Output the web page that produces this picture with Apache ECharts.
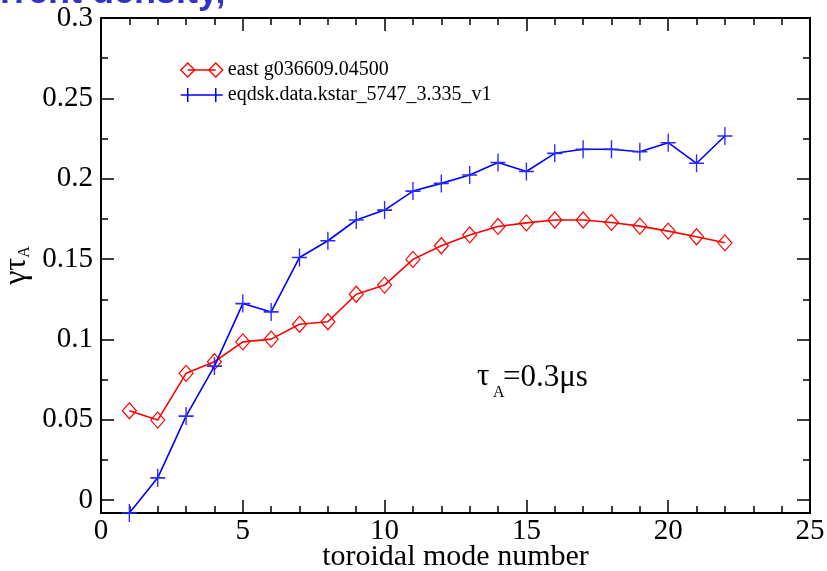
<!DOCTYPE html>
<html><head><meta charset="utf-8">
<script src="https://cdn.jsdelivr.net/npm/echarts@6/dist/echarts.min.js"></script>
<style>html,body{margin:0;padding:0;background:#fff}#c{width:827px;height:571px}</style>
</head><body><div id="c"></div>
<script>
const modeNumbers = [1,2,3,4,5,6,7,8,9,10,11,12,13,14,15,16,17,18,19,20,21,22];
const eastValues = [0.0556,0.0498,0.0789,0.0861,0.0985,0.1002,0.1094,0.111,0.1281,0.1338,0.1498,0.1583,0.165,0.1703,0.1725,0.1743,0.1743,0.1728,0.1705,0.1674,0.1639,0.1601];
const kstarValues = [-0.008,0.0139,0.0523,0.0834,0.1223,0.1171,0.151,0.1614,0.1743,0.1805,0.1923,0.1971,0.2023,0.2101,0.2045,0.2158,0.2183,0.2183,0.2168,0.2224,0.2096,0.2266];
const seriesNames = ['east g036609.04500','eqdsk.data.kstar_5747_3.335_v1'];
const yMajorTicks = [0,0.05,0.1,0.15,0.2,0.25,0.3];
const yMinorTicks = [0.025,0.075,0.125,0.175,0.225,0.275];

const SERIF = 'Liberation Serif';
const tickStyle = {color:'#000', width:1.5};
function xAx(pos, labels){
  return {type:'value', min:0, max:25, interval:5, position:pos,
    axisLine:{show:true, onZero:false, lineStyle:{color:'#000', width:2}},
    axisTick:{show:true, inside:true, length:13, lineStyle:tickStyle},
    minorTick:{show:true, splitNumber:5, length:7, lineStyle:tickStyle},
    axisLabel:{show:labels, fontFamily:SERIF, fontSize:29, color:'#000', margin:4},
    splitLine:{show:false}, minorSplitLine:{show:false}};
}
function yAx(pos, major, labels){
  const vals = major ? yMajorTicks : yMinorTicks;
  return {type:'value', min:-0.008, max:0.3, position:pos,
    axisLine:{show:true, onZero:false, lineStyle:{color:'#000', width:2}},
    axisTick:{show:true, inside:true, length: major?13:7, lineStyle:tickStyle, customValues: vals},
    axisLabel:{show:labels, customValues: vals, fontFamily:SERIF, fontSize:29, color:'#000', margin:8,
      formatter: v => String(+(+v).toFixed(3))},
    splitLine:{show:false}};
}
const xAxis = [xAx('bottom', true), xAx('top', false)];
xAxis[0].name = 'toroidal mode number';
xAxis[0].nameLocation = 'middle';
xAxis[0].nameGap = 29;
xAxis[0].nameMoveOverlap = false;
xAxis[0].nameTextStyle = {fontFamily:SERIF, fontSize:30, color:'#000'};

const yAxis = [yAx('left',true,true), yAx('left',false,false), yAx('right',true,false), yAx('right',false,false)];
yAxis[0].name = '{g|γτ}{s|A}';
yAxis[0].nameLocation = 'middle';
yAxis[0].nameRotate = 90;
yAxis[0].nameGap = 68;
yAxis[0].nameMoveOverlap = false;
yAxis[0].nameTextStyle = {color:'#000', rich:{
  g:{fontFamily:SERIF, fontSize:32, lineHeight:32, verticalAlign:'top', color:'#000'},
  s:{fontFamily:SERIF, fontSize:16, lineHeight:16, verticalAlign:'bottom', padding:[20,0,0,0], color:'#000'}
}};

const chart = echarts.init(document.getElementById('c'));
chart.setOption({
  animation:false,
  backgroundColor:'#fff',
  grid:{left:101, top:18, right:17, bottom:58, containLabel:false, outerBoundsMode:'none'},
  xAxis: xAxis,
  yAxis: yAxis,
  legend:{orient:'vertical', left:175, top:55, itemWidth:42, itemHeight:14, itemGap:5,
    textStyle:{fontFamily:SERIF, fontSize:20, color:'#000'},
    data:[
      {name:seriesNames[0], icon:'path://M0 7 L7 0 L14 7 L7 14 Z M7 7 L35 7 M28 7 L35 0 L42 7 L35 14 Z',
       itemStyle:{color:'rgba(0,0,0,0)', borderColor:'#ff0000', borderWidth:1.3}},
      {name:seriesNames[1], icon:'path://M0 7 L42 7 M7 0 L7 14 M35 0 L35 14',
       itemStyle:{color:'rgba(0,0,0,0)', borderColor:'#0000ff', borderWidth:1.5}}
    ]},
  graphic:[
    {type:'text', silent:true, style:{text:'current density,', x:-42, y:-7, font:'bold 36px "Liberation Sans"', fill:'#3333cc', textAlign:'left', textVerticalAlign:'middle'}},
    {type:'text', silent:true, style:{text:'τ', x:477, y:377, font:'31px "Liberation Serif"', fill:'#000', textAlign:'left', textVerticalAlign:'middle'}},
    {type:'text', silent:true, style:{text:'A', x:493, y:393, font:'16px "Liberation Serif"', fill:'#000', textAlign:'left', textVerticalAlign:'middle'}},
    {type:'text', silent:true, style:{text:'=0.3μs', x:503, y:378, font:'31px "Liberation Serif"', fill:'#000', textAlign:'left', textVerticalAlign:'middle'}}
  ],
  series:[
    {name:seriesNames[0], type:'line', xAxisIndex:0, yAxisIndex:0,
     data: modeNumbers.map((m,i)=>[m, eastValues[i]]),
     symbol:'diamond', symbolSize:[14,16],
     itemStyle:{color:'rgba(0,0,0,0)', borderColor:'#ff0000', borderWidth:1.2},
     lineStyle:{color:'#ff0000', width:1.6}, emphasis:{disabled:true}, z:3},
    {name:seriesNames[1], type:'line', xAxisIndex:0, yAxisIndex:0,
     data: modeNumbers.map((m,i)=>[m, kstarValues[i]]),
     symbol:'path://M0 9 L15 9 M7.5 0 L7.5 18', symbolSize:[15,18], symbolKeepAspect:false,
     itemStyle:{color:'rgba(0,0,0,0)', borderColor:'#2a2aff', borderWidth:1.5},
     lineStyle:{color:'#0000ff', width:1.6}, emphasis:{disabled:true}, z:4}
  ]
});
</script></body></html>
